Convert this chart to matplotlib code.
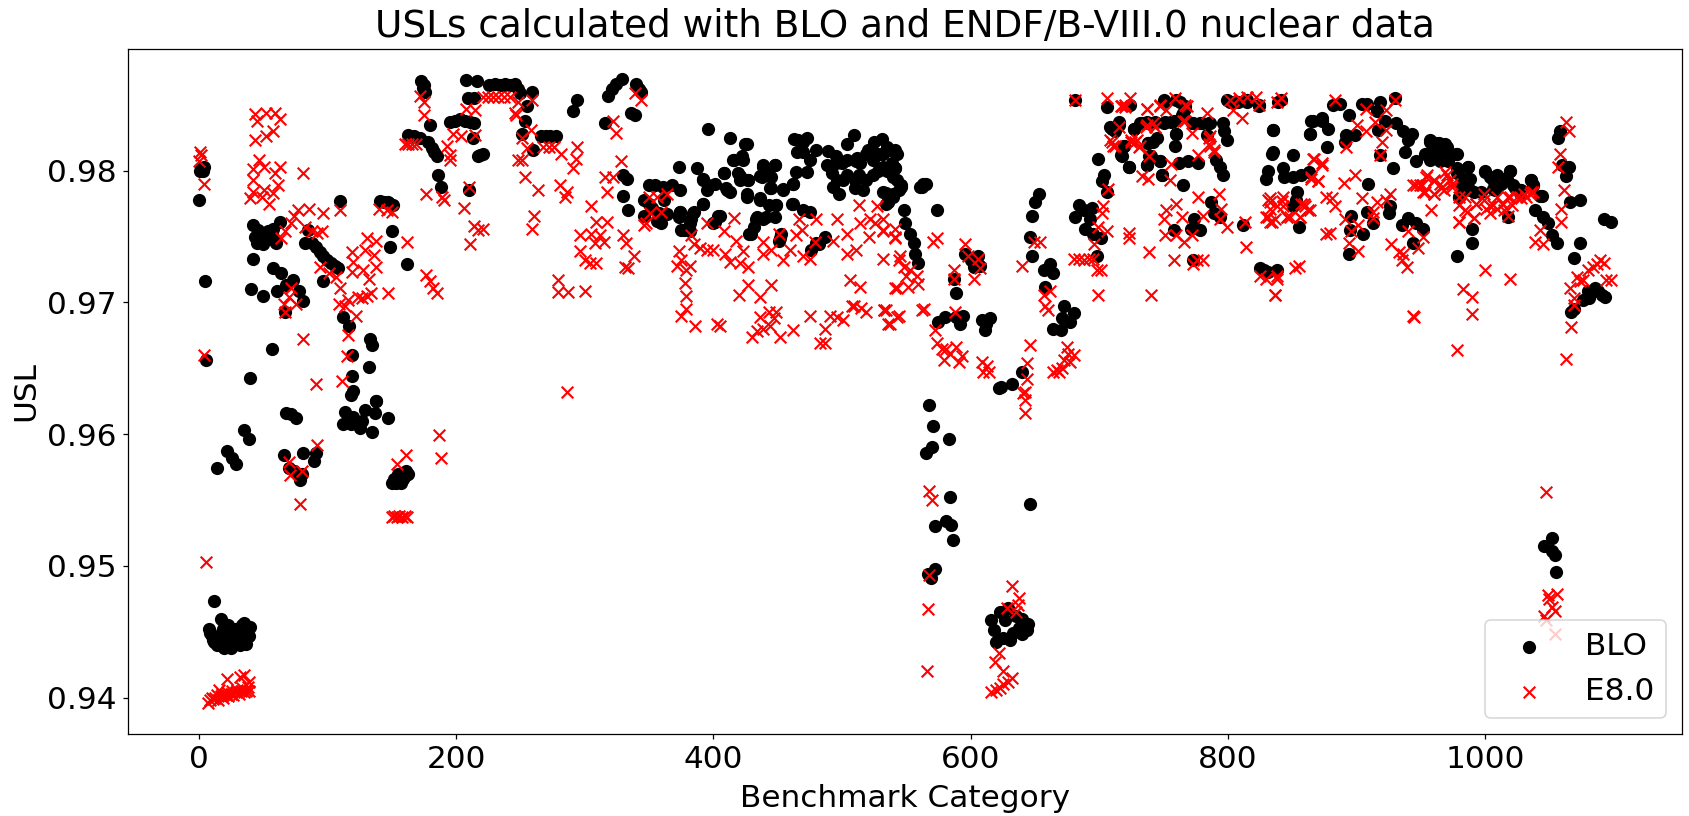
import matplotlib
matplotlib.use("Agg")
import matplotlib.pyplot as plt

# ---------- BLO series, read region by region ----------
blo_x_a = [0,1,2,3,4,5,6, 12,17,8,10,12,14,16,18,20,22,24,26,28,30,32,34,36,38,40,9,15,21,27,33,39,11,19,25,31,37,23,29,35,
           14,22,26,29,35,39,66,81,91,90,70,74,79,80,68,72,76,114,112,118,123,125,129,135,137,138,147,120,127,
           119,132,119,120,118,138,40,57,133,135]
blo_y_a = [.9778,.9800,.9802,.9800,.9803,.9716,.9656, .9473,.9460,.9452,.9447,.9442,.9440,.9445,.9450,.9438,.9442,.9446,.9440,.9452,.9443,.9440,.9455,.9444,.9453,.9454,.9449,.9441,.9440,.9448,.9442,.9447,.9444,.9452,.9438,.9448,.9441,.9455,.9444,.9457,
           .9574,.9587,.9582,.9577,.9603,.9596,.9584,.9586,.9586,.9580,.9574,.9572,.9565,.9570,.9616,.9615,.9612,.9617,.9608,.9608,.9608,.9605,.9618,.9602,.9616,.9625,.9612,.9613,.9610,
           .9660,.9651,.9644,.9633,.9630,.9625,.9643,.9665,.9672,.9668]
blo_x_b = [42,46,50,54,58,63,45,50,55,60,44,48,53,58,42,58,64,73,68,61,41,50,78,81,67,97,83,85,88,91,94,97,100,103,106,108,
           110,112,117,150,149,162,141,144,147,149,151,
           163,167,172,180,178,181,183,185,186,188,210,195,199,203,207,211,214,173,175,176,174,208,216,209,214,213,217,219,221,
           226,230,234,238,242,246,248,237,245,250,259,255,254,251,260,266,270,273,278,294,291,316,318,321,324,329,340,342,344,336,339,
           330,333,330,334,350,355,361,368,374,346,352,358,346,359,350,362,356,364]
blo_y_b = [.9759,.9755,.9752,.9754,.9750,.9761,.9745,.9744,.9748,.9745,.9750,.9748,.9752,.9756,.9733,.9726,.9722,.9717,.9713,.9709,.9710,.9705,.9709,.9701,.9693,.9716,.9745,.9755,.9745,.9742,.9738,.9735,.9732,.9730,.9728,.9726,
           .9777,.9689,.9682,.9754,.9742,.9729,.9777,.9776,.9776,.9775,.9774,
           .9827,.9826,.9825,.9835,.9822,.9817,.9814,.9811,.9797,.9788,.9785,.9837,.9838,.9839,.9838,.9837,.9836,.9868,.9865,.9860,.9863,.9869,.9868,.9855,.9855,.9825,.9811,.9812,.9813,
           .9865,.9866,.9865,.9866,.9865,.9866,.9862,.9865,.9865,.9859,.9860,.9849,.9838,.9828,.9816,.9826,.9826,.9826,.9826,.9854,.9845,.9836,.9857,.9862,.9866,.9870,.9866,.9862,.9860,.9844,.9842,
           .9797,.9794,.9781,.9770,.9789,.9789,.9788,.9789,.9785,.9778,.9772,.9768,.9766,.9760,.9775,.9778,.9762,.9767]
blo_x_c = [373,387,392,396,413,426,415,422,408,395,411,392,374,384,377,382,404,400,426,427,421,436,439,448,445,454,462,462,436,449,433,441,428,452,
           470,476,480,470,463,489,495,500,504,514,520,525,531,535,535,540,544,510,516,512,527,543,539,528,534,
           532,532,540,541,543,546,562,565,534,536,540,574,548,549,553,556,557,559,596,600,606,607,603,587,589,575,580,589,594,592,609,615,611,612,
           640,632,624,622,653,650,648,646,648,657,662,664,658,673,680,671,664,670,677]
blo_y_c = [.9803,.9802,.9793,.9832,.9825,.9820,.9808,.9811,.9798,.9785,.9785,.9775,.9769,.9768,.9755,.9760,.9766,.9760,.9782,.9793,.9796,.9796,.9803,.9804,.9787,.9786,.9790,.9775,.9779,.9774,.9763,.9765,.9752,.9749,
           .9770,.9740,.9745,.9822,.9824,.9815,.9811,.9806,.9797,.9806,.9816,.9822,.9824,.9818,.9800,.9795,.9785,.9793,.9785,.9810,.9813,.9813,.9806,.9800,.9775,
           .9813,.9803,.9815,.9802,.9793,.9789,.9788,.9790,.9783,.9776,.9782,.9770,.9770,.9760,.9752,.9745,.9737,.9730,.9737,.9732,.9735,.9728,.9727,.9718,.9707,.9685,.9689,.9689,.9690,.9684,.9687,.9688,.9679,.9684,
           .9647,.9638,.9636,.9635,.9782,.9776,.9766,.9750,.9735,.9725,.9729,.9722,.9712,.9697,.9692,.9688,.9680,.9679,.9685]
blo_x_d = [699,704,702,706,684,694,681,689,693,701,698,695,688,
           681,706,724,708,715,712,727,733,738,743,751,758,750,760,767,764,772,780,786,796,799,797,760,759,745,738,719,717,723,739,737,747,749,762,769,777,791,794,796,765,
           804,815,824,799,835,834,831,830,839,787,789,774,778,771,758,812,794,773,825,828,838,831,
           841,835,835,851,843,844,851,857,863,854,851,853,855,865,873,864,878,887,882,894,904,908,918,930,916,922,917,892,899,877,891,931,936,943,940,938,946,928,909,918,
           896,908,913,925,926,895,905,894,935,940,952,946,944,
           957,962,969,978,953,960,970,978,987,987,982,980,991,990,990,978,1018,
           1000,1006,1019,1014,1006,1022,1036,1037,1044,1027,1039,1045,1049,1052,1056,1057,1058,1060,1065,1063,
           1066,1074,1074,1069,1092,1098,1067,1069,1076,1080,1085,1091,1093,1081,1088]
blo_y_d = [.9809,.9797,.9792,.9784,.9774,.9772,.9765,.9756,.9763,.9749,.9735,.9752,.9770,
           .9854,.9848,.9850,.9833,.9837,.9830,.9832,.9836,.9836,.9837,.9837,.9838,.9852,.9854,.9849,.9842,.9836,.9836,.9836,.9836,.9823,.9830,.9828,.9819,.9825,.9821,.9819,.9812,.9803,.9811,.9804,.9807,.9797,.9806,.9807,.9806,.9808,.9803,.9797,.9789,
           .9852,.9854,.9850,.9854,.9831,.9813,.9800,.9794,.9852,.9776,.9768,.9763,.9755,.9756,.9755,.9759,.9765,.9732,.9726,.9725,.9725,.9723,
           .9854,.9831,.9814,.9812,.9802,.9795,.9795,.9797,.9799,.9784,.9773,.9778,.9757,.9838,.9840,.9828,.9832,.9851,.9850,.9842,.9851,.9851,.9852,.9855,.9845,.9838,.9831,.9827,.9827,.9818,.9822,.9836,.9830,.9828,.9823,.9814,.9807,.9802,.9790,.9812,
           .9766,.9769,.9760,.9768,.9773,.9755,.9752,.9737,.9759,.9764,.9756,.9760,.9745,
           .9823,.9821,.9820,.9813,.9813,.9811,.9808,.9798,.9803,.9794,.9788,.9780,.9784,.9756,.9745,.9735,.9765,
           .9799,.9793,.9800,.9794,.9786,.9789,.9793,.9789,.9781,.9785,.9770,.9765,.9760,.9751,.9745,.9825,.9830,.9804,.9803,.9796,
           .9776,.9778,.9745,.9734,.9763,.9761,.9693,.9695,.9702,.9709,.9711,.9706,.9704,.9703,.9709]
blo_x_e = [568,571,583,570,565,584,646,581,585,572,586,572,567,569,
           629,616,618,620,631,640,644,645,640,627,635,623,638,625,633,
           150,153,155,157,159,161,163,152,156,160,1052,1046,1052,1054,1055]
blo_y_e = [.9622,.9606,.9596,.9590,.9586,.9552,.9547,.9534,.9531,.9530,.9520,.9498,.9494,.9491,
           .9468,.9459,.9451,.9442,.9444,.9448,.9451,.9456,.9460,.9459,.9462,.9465,.9453,.9445,.9449,
           .9563,.9563,.9570,.9563,.9566,.9572,.9570,.9566,.9564,.9568,.9521,.9515,.9511,.9508,.9495]
blo_x_f = [392,396,401,408,410,413,416,419,421,423,425,427,439,448,438,445,441,444,454,462,464,473,475,480,470,465,466,473,504,495,488,492,496,501,498,493,510,513,519,524,511,519,530,524,532,541,541,546,532,536,540,509,504,563,561,
           426,436,443,449,461,392,374,385,373,383,375,382,405,401,434,432,439,448,429,453,451,475,487,482]
blo_y_f = [.9794,.9789,.9790,.9798,.9787,.9784,.9808,.9798,.9793,.9808,.9820,.9793,.9804,.9804,.9795,.9795,.9799,.9787,.9785,.9790,.9799,.9799,.9808,.9816,.9814,.9814,.9823,.9825,.9808,.9806,.9804,.9798,.9793,.9793,.9782,.9788,.9787,.9797,.9793,.9797,.9807,.9813,.9813,.9808,.9802,.9802,.9816,.9788,.9784,.9776,.9780,.9827,.9820,.9790,.9788,
           .9780,.9778,.9774,.9774,.9775,.9775,.9769,.9769,.9765,.9763,.9755,.9754,.9766,.9761,.9765,.9757,.9763,.9765,.9752,.9752,.9747,.9769,.9750,.9744]
blo_x_g = [710,715,727,732,737,750,756,760,742,738,719,718,723,740,737,747,749,750,763,767,765,773,778,785,784,802,808,815,824,866,873,864,
           957,964,970,977,955,961,968,957,965,971,978,987,983,988,982,988,997,980,1000,1004,1009,1019,1017,1012,1008,1023,1028,1036,1037,1043,1027]
blo_y_g = [.9832,.9835,.9832,.9836,.9837,.9836,.9837,.9828,.9822,.9821,.9819,.9811,.9803,.9811,.9804,.9807,.9797,.9854,.9852,.9847,.9844,.9836,.9836,.9836,.9827,.9852,.9852,.9852,.9849,.9838,.9838,.9828,
           .9822,.9821,.9818,.9813,.9813,.9814,.9812,.9808,.9807,.9807,.9802,.9803,.9794,.9794,.9788,.9785,.9784,.9780,.9800,.9795,.9797,.9800,.9794,.9790,.9785,.9787,.9785,.9793,.9789,.9781,.9783]

# ---------- E8.0 series, read region by region ----------
e80_x_a = [1,2,0,4,4,6, 44,45,52,59,63,44,52,58,47,42,51,63,59,81,42,62,51,42,40,49,58,55,
           77,86,97,110,74,72,67,64,83,88,96,92,94,101,107,119,131,138,129,136,120,138,128,119,132,110,109,116,114,124,134,127,131,147,122,116,115,111,91,81,67,70,72,76,66,
           92,70,71,80,79,161,154,187,188,
           7,9,11,13,15,17,19,21,23,25,27,29,31,33,35,37,39,10,14,18,22,26,30,34,38,22,35,39,32,16,
           150,152,154,156,158,160,162,
           140,146,150,162,177,180,182,185,177,189,191,206,210,214,217,221,211,248,
           160,163,166,169,193,195,195,198,204,215,175,172,175,208,215,221,225,229,233,237,242,247]
e80_y_a = [.9814,.9812,.9807,.9790,.9660,.9503, .9843,.9838,.9844,.9844,.9839,.9823,.9826,.9830,.9808,.9801,.9803,.9803,.9798,.9798,.9793,.9789,.9785,.9784,.9779,.9780,.9783,.9775,
           .9770,.9771,.9768,.9770,.9766,.9760,.9754,.9749,.9757,.9754,.9754,.9753,.9727,.9722,.9719,.9738,.9749,.9747,.9740,.9736,.9731,.9727,.9725,.9723,.9718,.9711,.9699,.9702,.9697,.9704,.9707,.9703,.9705,.9707,.9690,.9675,.9659,.9640,.9638,.9672,.9693,.9704,.9711,.9699,.9699,
           .9592,.9579,.9569,.9572,.9547,.9584,.9577,.9599,.9582,
           .9396,.9398,.9399,.9400,.9398,.9401,.9400,.9402,.9401,.9403,.9402,.9404,.9403,.9405,.9404,.9405,.9405,.9400,.9402,.9403,.9404,.9405,.9406,.9407,.9408,.9414,.9417,.9412,.9416,.9406,
           .9537,.9538,.9537,.9538,.9537,.9538,.9537,
           .9771,.9770,.9769,.9746,.9721,.9716,.9711,.9707,.9782,.9780,.9778,.9772,.9788,.9758,.9755,.9756,.9744,.9808,
           .9820,.9820,.9820,.9820,.9819,.9812,.9808,.9828,.9826,.9827,.9842,.9857,.9852,.9847,.9846,.9856,.9856,.9856,.9856,.9856,.9856,.9842]
e80_x_b = [246,248,259,258,251,255,251,254,264,261,259,268,272,276,282,294,293,291,281,286,285,305,309,317,305,312,296,308,315,330,332,296,300,304,309,338,331,334,279,287,300,279,286,
           316,322,317,328,322,324,339,344,348,350,356,364,359,351,346,
           383,385,390,395,400,373,375,372,382,379,378,379,379,375,386,403,405,
           395,416,408,418,409,413,423,421,427,439,439,445,454,460,451,464,467,480,469,475,470,479,496,504,493,504,511,513,514,522,527,526,532,521,541,532,544,
           427,445,420,436,436,443,449,447,430,434,439,444,452,462,475,487,491,496,501,483,487,506,508,514,541,509,515,519,533,536,543]
e80_y_b = [.9844,.9852,.9854,.9831,.9825,.9817,.9808,.9795,.9785,.9766,.9756,.9818,.9818,.9818,.9813,.9818,.9809,.9802,.9789,.9784,.9780,.9773,.9761,.9761,.9752,.9751,.9751,.9745,.9746,.9751,.9745,.9739,.9732,.9730,.9730,.9735,.9727,.9726,.9708,.9708,.9709,.9717,.9632,
           .9795,.9795,.9784,.9807,.9838,.9829,.9859,.9854,.9760,.9780,.9780,.9782,.9769,.9768,.9759,
           .9751,.9744,.9741,.9740,.9740,.9739,.9732,.9728,.9728,.9725,.9715,.9705,.9695,.9690,.9682,.9684,.9682,
           .9760,.9764,.9754,.9747,.9737,.9731,.9739,.9730,.9727,.9746,.9737,.9740,.9732,.9740,.9752,.9751,.9763,.9763,.9755,.9733,.9735,.9746,.9763,.9752,.9747,.9737,.9740,.9774,.9760,.9763,.9773,.9760,.9755,.9750,.9750,.9733,.9732,
           .9713,.9713,.9706,.9704,.9689,.9693,.9693,.9688,.9674,.9678,.9680,.9682,.9674,.9679,.9690,.9680,.9690,.9689,.9687,.9669,.9669,.9717,.9697,.9712,.9711,.9697,.9696,.9693,.9694,.9684,.9689]
e80_x_c = [532,532,541,541,533,545,548,553,558,550,559,543,551,534,544,537,562,564,571,574,
           596,598,606,607,603,587,587,588,572,574,578,579,584,589,593,591,581,609,613,614,610,646,644,644,642,642,642,641,
           566,570,568,568,567,632,638,637,628,635,622,619,625,632,629,625,620,616,623,
           664,667,671,673,675,676,677,680,669,
           681,706,724,717,720,737,747,759,768,784,767,772,715,737,743,708,711,728,725,731,786,789,785,777,739,733,738,755,756,
           707,703,702,699,706,696,723,723,739,758,773,698,701,699,740,640,777,760,752,750,764,751,760,766,772,781,793,795,794,799,814,813,
           680,684,688,692,695,776,781,649,654,662,657,658,660,
           802,809,815,822,824,804,811,838, 831,833,831,838,837,825,830,837,838]
e80_y_c = [.9763,.9754,.9756,.9749,.9694,.9735,.9727,.9725,.9720,.9720,.9714,.9711,.9712,.9694,.9690,.9684,.9694,.9695,.9746,.9749,
           .9744,.9735,.9733,.9726,.9718,.9725,.9718,.9693,.9679,.9669,.9665,.9656,.9661,.9666,.9659,.9655,.9665,.9655,.9652,.9647,.9647,.9668,.9654,.9642,.9632,.9626,.9616,.9631,
           .9420,.9550,.9493,.9557,.9467,.9485,.9476,.9470,.9468,.9465,.9434,.9427,.9420,.9415,.9412,.9410,.9406,.9404,.9407,
           .9647,.9649,.9650,.9656,.9666,.9661,.9655,.9660,.9647,
           .9854,.9855,.9855,.9849,.9848,.9847,.9849,.9855,.9849,.9844,.9838,.9829,.9833,.9835,.9833,.9823,.9819,.9822,.9823,.9818,.9826,.9816,.9820,.9812,.9811,.9796,.9794,.9793,.9805,
           .9786,.9773,.9768,.9757,.9754,.9744,.9753,.9749,.9738,.9732,.9729,.9725,.9725,.9706,.9706,.9728,.9780,.9775,.9770,.9763,.9765,.9751,.9751,.9746,.9751,.9766,.9782,.9771,.9763,.9757,.9742,.9761,
           .9733,.9733,.9732,.9733,.9733,.9732,.9732,.9746,.9746,.9709,.9706,.9697,.9694,
           .9854,.9855,.9856,.9856,.9850,.9846,.9840,.9852, .9778,.9771,.9765,.9773,.9763,.9720,.9718,.9706,.9720]
e80_x_d = [841,833,833,842,843,846,856,859,864,852,855,838,837,876,879,867,873,865,870,876,881,883,890,899,904,891,901,896,894,901,883,892,900,907,914,923,930,907,923,920,918,916,913,913,926,923,940,952,948,927,933,936,939,935,944,945,978,983,990,990,1000,1019,
           946,951,955,960,952,960,966,970,974,958,980,984,991,980,993,999,1004,1009,1014,1018,1025,1030,1036,1043,1039,1045,1059,1059,1061,1057,1058,1065,1063,
           1066,1069,1069,1067,1063,1071,1076,1080,1084,1089,1092,1094,1098,1074,1087,
           1047,1056,1049,1050,1052,1054,1046,1047,1054]
e80_y_d = [.9855,.9779,.9761,.9777,.9773,.9765,.9765,.9775,.9770,.9726,.9728,.9718,.9706,.9752,.9753,.9809,.9806,.9795,.9792,.9780,.9779,.9773,.9791,.9797,.9779,.9763,.9759,.9754,.9745,.9739,.9854,.9818,.9835,.9830,.9837,.9846,.9854,.9847,.9831,.9822,.9812,.9776,.9769,.9764,.9782,.9778,.9754,.9750,.9741,.9744,.9738,.9737,.9727,.9732,.9690,.9689,.9664,.9710,.9704,.9691,.9725,.9718,
           .9789,.9789,.9797,.9792,.9784,.9782,.9787,.9797,.9790,.9770,.9780,.9770,.9764,.9761,.9775,.9778,.9773,.9771,.9775,.9780,.9780,.9782,.9784,.9755,.9746,.9744,.9761,.9771,.9785,.9803,.9813,.9830,.9837,
           .9711,.9703,.9698,.9681,.9657,.9719,.9717,.9725,.9727,.9732,.9730,.9717,.9717,.9716,.9729,
           .9556,.9479,.9478,.9475,.9469,.9466,.9462,.9459,.9448]
e80_x_e = [718,720,710,712,725,729,732,737,747,752,767,765,742,736,785,789,786,
           833,830,834,843,846,848,857,862,856,860,865,870,873,866,
           944,949,954,960,965,969,973,953,960,968,974,980,984,986,991,980,993,999,1001,1006,1009,1013,1019,1021,1004,1015,1028,1035,1037,1032,1018]
e80_y_e = [.9849,.9850,.9822,.9819,.9822,.9823,.9819,.9847,.9850,.9846,.9850,.9838,.9836,.9833,.9825,.9814,.9819,
           .9776,.9765,.9761,.9780,.9765,.9765,.9775,.9770,.9765,.9773,.9794,.9792,.9804,.9809,
           .9789,.9789,.9795,.9793,.9790,.9799,.9793,.9784,.9782,.9785,.9788,.9774,.9780,.9769,.9764,.9761,.9775,.9782,.9771,.9774,.9780,.9775,.9780,.9774,.9768,.9770,.9779,.9782,.9784,.9780,.9766]

blo_x = blo_x_a + blo_x_b + blo_x_c + blo_x_d + blo_x_e + blo_x_f + blo_x_g
blo_y = blo_y_a + blo_y_b + blo_y_c + blo_y_d + blo_y_e + blo_y_f + blo_y_g
e80_x = e80_x_a + e80_x_b + e80_x_c + e80_x_d + e80_x_e
e80_y = e80_y_a + e80_y_b + e80_y_c + e80_y_d + e80_y_e

W, H = 1689, 816
DPI = 112
fig = plt.figure(figsize=(W / DPI, H / DPI), dpi=DPI)
ax = fig.add_axes([127.7 / W, (H - 734) / H, (1682 - 127.7) / W, (734 - 49) / H])

ax.scatter(blo_x, blo_y, c="black", marker="o", s=72, linewidths=0, label="BLO")
ax.scatter(e80_x, e80_y, c="red", marker="x", s=56, linewidths=1.35, label="E8.0")

ax.set_xlim(-55.2, 1153)
ax.set_ylim(0.93724, 0.98924)
ax.set_xticks([0, 200, 400, 600, 800, 1000])
ax.set_yticks([0.94, 0.95, 0.96, 0.97, 0.98])
ax.tick_params(labelsize=20)
ax.set_xlabel("Benchmark Category", fontsize=20, labelpad=6.8)
ax.set_ylabel("USL", fontsize=20, labelpad=4.5)
ax.set_title("USLs calculated with BLO and ENDF/B-VIII.0 nuclear data", fontsize=24, pad=7.4)
ax.legend(loc="lower right", fontsize=20)

fig.savefig("out.png", dpi=DPI)
